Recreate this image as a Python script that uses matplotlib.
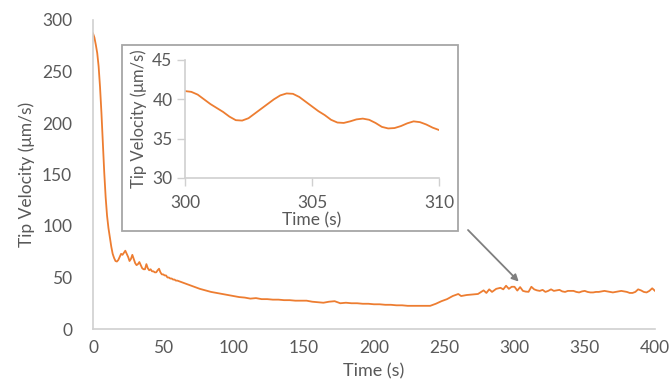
import matplotlib
matplotlib.use("Agg")
import matplotlib.pyplot as plt
from matplotlib.patches import Rectangle

# ---------------- data ----------------
time_s = [0, 1, 2, 3, 4, 5, 6, 7, 8, 9, 10, 11, 12, 13, 14, 15, 16, 17, 18, 19,
          20, 21, 22, 23, 24, 25, 26, 27, 28, 29, 30, 31, 32, 33, 34, 35, 36, 37, 38, 39,
          40, 41, 42, 43, 44, 45, 46, 47, 48, 49, 50, 51, 52, 53, 54, 55, 56, 57, 58, 59, 60,
          64, 68, 72, 76, 80, 84, 88, 92, 96, 100, 104, 108, 112, 116, 120, 124, 128, 132, 136,
          140, 144, 148, 152, 156, 160, 164, 168, 172, 176, 180, 184, 188, 192, 196, 200,
          204, 208, 212, 216, 220, 224, 228, 232, 236, 240, 244, 248, 252, 256, 260, 262,
          266, 270, 274, 278, 280, 282, 284, 287, 290, 292, 294, 296, 298, 300, 302, 304,
          306, 308, 310, 312, 314, 316, 318, 320, 322, 324, 326, 328, 330, 332, 334, 336,
          338, 340, 342, 344, 346, 348, 350, 352, 354, 356, 358, 360, 362, 364, 366, 368,
          370, 372, 374, 376, 378, 380, 382, 384, 386, 388, 390, 392, 394, 396, 398, 400]
velocity = [287, 283, 276, 268, 255, 235, 210, 180, 152, 128, 110, 98, 89, 80, 73, 69, 66, 65.5, 67, 70,
            73, 72, 74, 76, 73, 70, 66, 68, 72, 68, 64, 62, 63, 65, 62, 59, 58, 58, 63, 59,
            57, 58, 56, 56, 55, 55, 57, 58.5, 55, 53, 53, 52, 52, 50, 50, 49, 49, 48, 48, 47, 47,
            45, 43, 41, 39, 37.5, 36, 35, 34, 33, 32, 31, 30.5, 29.5, 30, 29, 29, 28.5, 28.5, 28,
            28, 27.5, 27.5, 27.5, 26.5, 26, 25.5, 26.5, 27, 25, 25.5, 25, 25, 24.5, 24.5, 24,
            24, 23.5, 23.5, 23, 23, 22.5, 22.5, 22.5, 22.5, 22.5, 24.5, 27, 29, 32, 34, 32,
            33, 33.5, 34, 37.5, 35, 38.5, 36, 39, 40, 38.5, 42, 39, 41, 41, 37.3, 40.7,
            37, 36.3, 36.1, 41, 38.5, 37.5, 37, 38, 36, 37, 38.5, 37, 37.5, 38, 36.5, 36,
            37, 37, 37, 36, 35.5, 36.5, 37, 36, 35.5, 35.5, 36, 36, 36.5, 37, 36.5, 36,
            35.5, 36, 36.5, 37, 36.5, 36, 35, 35, 36, 38.5, 37.5, 36, 35.5, 37, 39.5, 37]

inset_time = [300, 300.25, 300.5, 300.75, 301, 301.25, 301.5, 301.75, 302, 302.25,
              302.5, 302.75, 303, 303.25, 303.5, 303.75, 304, 304.25, 304.5, 304.75,
              305, 305.25, 305.5, 305.75, 306, 306.25, 306.5, 306.75, 307, 307.25,
              307.5, 307.75, 308, 308.25, 308.5, 308.75, 309, 309.25, 309.5, 309.75, 310]
inset_velocity = [41.05, 40.95, 40.6, 40.0, 39.4, 38.9, 38.4, 37.8, 37.35, 37.3,
                  37.6, 38.2, 38.8, 39.4, 40.0, 40.5, 40.75, 40.7, 40.3, 39.7,
                  39.1, 38.5, 38.0, 37.4, 37.05, 37.0, 37.2, 37.45, 37.55, 37.4,
                  37.0, 36.5, 36.3, 36.35, 36.6, 36.95, 37.2, 37.1, 36.8, 36.4, 36.1]

main_xticks = [0, 50, 100, 150, 200, 250, 300, 350, 400]
main_yticks = [0, 50, 100, 150, 200, 250, 300]
inset_xticks = [300, 305, 310]
inset_yticks = [30, 35, 40, 45]

# ---------------- style ----------------
W, H = 669, 385
plt.rcParams['font.family'] = ['Lato', 'DejaVu Sans']
LINE = '#ED7D31'
TXT = '#595959'
AX = '#d0d0d0'

fig = plt.figure(figsize=(W / 100, H / 100), dpi=100)

def fx(px):
    return px / W

def fy(py):
    return 1 - py / H

# main axes
ax = fig.add_axes([fx(93), fy(329), fx(655) - fx(93), fy(20) - fy(329)])
ax.plot(time_s, velocity, color=LINE, lw=1.3)
ax.set_xlim(0, 400)
ax.set_ylim(0, 300)
ax.set_xticks(main_xticks)
ax.set_yticks(main_yticks)
ax.tick_params(length=0, labelsize=12.5, colors=TXT)
ax.tick_params(axis='y', pad=15)
ax.tick_params(axis='x', pad=8)
for s in ['top', 'right']:
    ax.spines[s].set_visible(False)
for s in ['left', 'bottom']:
    ax.spines[s].set_color(AX)
    ax.spines[s].set_linewidth(1.2)
ax.set_xlabel('Time (s)', fontsize=13, color=TXT, labelpad=5)
ax.set_ylabel('Tip Velocity (μm/s)', fontsize=12.5, color=TXT, labelpad=5)

# arrow
ax.annotate('', xy=(303, 46), xycoords='data',
            xytext=(fx(468), fy(230)), textcoords='figure fraction',
            arrowprops=dict(arrowstyle='-|>', color='#7f7f7f', lw=1.3,
                            mutation_scale=10, shrinkA=0, shrinkB=0))

# inset frame
fig.patches.append(Rectangle((fx(122), fy(231)), fx(458) - fx(122), fy(45) - fy(231),
                             transform=fig.transFigure, facecolor='white',
                             edgecolor='#a6a6a6', lw=1.3, zorder=3))

iax = fig.add_axes([fx(185), fy(178), fx(439) - fx(185), fy(60) - fy(178)], zorder=5)
iax.patch.set_alpha(0)
iax.plot(inset_time, inset_velocity, color=LINE, lw=1.3)
iax.set_xlim(300, 310)
iax.set_ylim(30, 45)
iax.set_xticks(inset_xticks)
iax.set_yticks(inset_yticks)
iax.tick_params(length=6, width=1, color=AX, labelsize=12.5, labelcolor=TXT, pad=3)
iax.tick_params(axis='x', pad=6)
for s in ['top', 'right']:
    iax.spines[s].set_visible(False)
for s in ['left', 'bottom']:
    iax.spines[s].set_color(AX)
    iax.spines[s].set_linewidth(1.2)
iax.set_xlabel('Time (s)', fontsize=12.5, color=TXT, labelpad=1)
iax.set_ylabel('Tip Velocity (μm/s)', fontsize=12, color=TXT, labelpad=4)

fig.savefig('out.png', dpi=100)
